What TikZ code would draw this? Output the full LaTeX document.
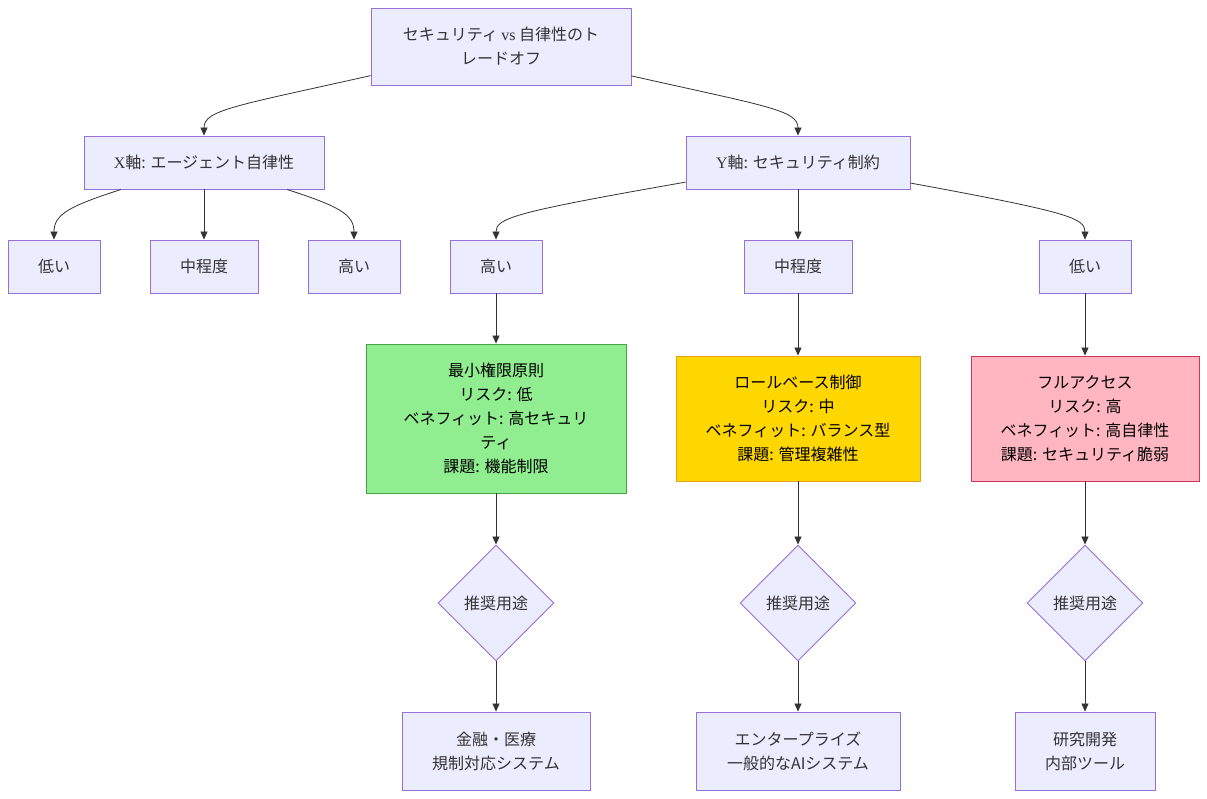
\documentclass[tikz,border=0pt]{standalone}
\usepackage{fontspec}
\setmainfont{Noto Sans CJK JP}
\newfontfamily\latinserif{Liberation Serif}
\usetikzlibrary{positioning, arrows.meta, shapes.geometric}
\definecolor{nodeFill}{HTML}{ECECFF}
\definecolor{nodeEdge}{HTML}{9370DB}
\definecolor{inkGrey}{HTML}{333333}
\definecolor{safeGreen}{HTML}{90EE90}
\definecolor{safeGreenEdge}{HTML}{46A346}
\definecolor{midGold}{HTML}{FFD700}
\definecolor{midGoldEdge}{HTML}{E3A21A}
\definecolor{riskPink}{HTML}{FFB6C1}
\definecolor{riskPinkEdge}{HTML}{D0345A}
\tikzset{
  box/.style    = {draw=nodeEdge, fill=nodeFill, align=center, text=inkGrey,
                   font=\fontsize{16}{24}\selectfont, inner sep=0pt, line width=0.9pt},
  green/.style  = {draw=safeGreenEdge, fill=safeGreen, text=black},
  gold/.style   = {draw=midGoldEdge, fill=midGold, text=black},
  pink/.style   = {draw=riskPinkEdge, fill=riskPink, text=black},
  choice/.style = {box, diamond, minimum width=116pt, minimum height=116pt},
  fl/.style     = {-{Triangle[length=8pt, width=7pt]}, draw=inkGrey, line width=0.8pt}
}
\begin{document}
\begin{tikzpicture}[x=1pt, y=-1pt]
  \useasboundingbox (0,0) rectangle (1207,798);
  % root and the two axes
  \node[box, minimum width=260pt, minimum height=77pt] (root) at (501,46.5)
    {セキュリティ {\latinserif vs} 自律性のト\\レードオフ};
  \node[box, minimum width=240pt, minimum height=53pt] (xaxis) at (204,162.5)
    {{\latinserif X}軸: エージェント自律性};
  \node[box, minimum width=224pt, minimum height=53pt] (yaxis) at (798,162.5)
    {{\latinserif Y}軸: セキュリティ制約};
  % autonomy levels
  \node[box, minimum width=92pt, minimum height=53pt] (xlow) at (54,266.5) {低い};
  \node[box, minimum width=108pt, minimum height=53pt] (xmid) at (204,266.5) {中程度};
  \node[box, minimum width=92pt, minimum height=53pt] (xhigh) at (354,266.5) {高い};
  % security levels
  \node[box, minimum width=92pt, minimum height=53pt] (yhigh) at (496,266.5) {高い};
  \node[box, minimum width=108pt, minimum height=53pt] (ymid) at (798,266.5) {中程度};
  \node[box, minimum width=92pt, minimum height=53pt] (ylow) at (1085,266.5) {低い};
  % policies
  \node[box, green, minimum width=260pt, minimum height=149pt] (least) at (496,418.5)
    {最小権限原則\\リスク: 低\\ベネフィット: 高セキュリ\\ティ\\課題: 機能制限};
  \node[box, gold, minimum width=244pt, minimum height=125pt] (rbac) at (798,418.5)
    {ロールベース制御\\リスク: 中\\ベネフィット: バランス型\\課題: 管理複雑性};
  \node[box, pink, minimum width=228pt, minimum height=125pt] (full) at (1085,418.5)
    {フルアクセス\\リスク: 高\\ベネフィット: 高自律性\\課題: セキュリティ脆弱};
  % use cases
  \node[choice] (useleast) at (496,603) {推奨用途};
  \node[choice] (userbac) at (798,603) {推奨用途};
  \node[choice] (usefull) at (1085,603) {推奨用途};
  \node[box, minimum width=188pt, minimum height=78pt] (fin) at (496,751)
    {金融・医療\\規制対応システム};
  \node[box, minimum width=204pt, minimum height=78pt] (ent) at (798,751)
    {エンタープライズ\\一般的なAIシステム};
  \node[box, minimum width=140pt, minimum height=78pt] (lab) at (1085,751)
    {研究開発\\内部ツール};

  \draw[fl] (root) .. controls (235,106) and (204,110) .. (xaxis);
  \draw[fl] (root) .. controls (765,106) and (798,110) .. (yaxis);
  \draw[fl] (xaxis) .. controls (70,206) and (54,214) .. (xlow);
  \draw[fl] (xaxis) -- (xmid);
  \draw[fl] (xaxis) .. controls (338,206) and (354,214) .. (xhigh);
  \draw[fl] (yaxis) .. controls (515,212) and (496,218) .. (yhigh);
  \draw[fl] (yaxis) -- (ymid);
  \draw[fl] (yaxis) .. controls (1068,212) and (1085,218) .. (ylow);
  \draw[fl] (yhigh) -- (least);
  \draw[fl] (ymid) -- (rbac);
  \draw[fl] (ylow) -- (full);
  \draw[fl] (least) -- (useleast);
  \draw[fl] (rbac) -- (userbac);
  \draw[fl] (full) -- (usefull);
  \draw[fl] (useleast) -- (fin);
  \draw[fl] (userbac) -- (ent);
  \draw[fl] (usefull) -- (lab);
\end{tikzpicture}
\end{document}
